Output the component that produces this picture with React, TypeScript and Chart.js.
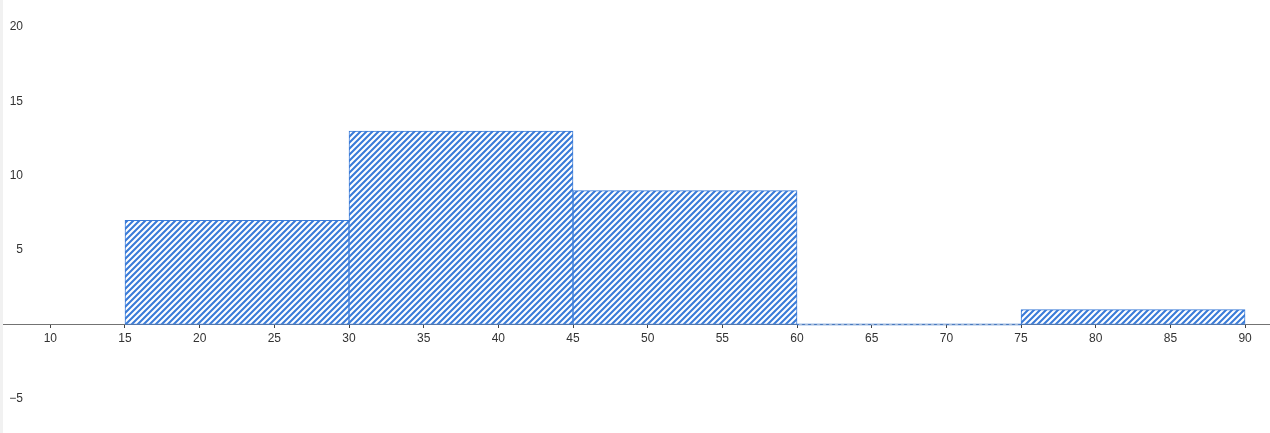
import React, { useEffect, useRef } from "react";
import { Chart, registerables } from "chart.js";

Chart.register(...registerables);

const binCenters = [22.5, 37.5, 52.5, 67.5, 82.5];
const binCounts = [7, 13, 9, 0, 1];
const binWidth = 15;
const xTickRange = [6.63, 91.67];
const yTickRange = [-7.29, 21.81];

const BLUE = "#3a7bd8";

function makeHatch(): CanvasPattern | string {
  const s = 6;
  const c = document.createElement("canvas");
  c.width = s;
  c.height = s;
  const ctx = c.getContext("2d");
  if (!ctx) return BLUE;
  ctx.fillStyle = "#ffffff";
  ctx.fillRect(0, 0, s, s);
  ctx.strokeStyle = BLUE;
  ctx.lineWidth = 2.1;
  ctx.beginPath();
  ctx.moveTo(-1, s + 1);
  ctx.lineTo(s + 1, -1);
  ctx.moveTo(-2, 2);
  ctx.lineTo(2, -2);
  ctx.moveTo(s - 2, s + 2);
  ctx.lineTo(s + 2, s - 2);
  ctx.stroke();
  const p = ctx.createPattern(c, "repeat");
  return p || BLUE;
}

const noPad = (s: any) => {
  s.paddingTop = 0;
  s.paddingBottom = 0;
  s.paddingLeft = 0;
  s.paddingRight = 0;
};

const font = { family: "'Liberation Sans', Arial, sans-serif", size: 12 };

export default function App() {
  const ref = useRef<HTMLCanvasElement | null>(null);

  useEffect(() => {
    if (!ref.current) return;
    const hatch = makeHatch();
    const chart = new Chart(ref.current, {
      type: "bar",
      data: {
        datasets: [
          {
            data: binCenters.map((x, i) => ({ x, y: binCounts[i] })),
            xAxisID: "xb",
            backgroundColor: hatch as any,
            borderColor: BLUE,
            borderWidth: 1,
            borderSkipped: false,
            barPercentage: 1,
            categoryPercentage: 1,
            minBarLength: 1.5,
          },
        ],
      },
      options: {
        animation: false,
        responsive: false,
        devicePixelRatio: 1,
        layout: { padding: 0 },
        plugins: { legend: { display: false }, tooltip: { enabled: false } },
        scales: {
          xb: {
            type: "linear",
            display: false,
            offset: false,
            min: xTickRange[0],
            max: xTickRange[1],
            ticks: { stepSize: binWidth, includeBounds: false },
            afterFit: noPad,
          },
          x: {
            type: "linear",
            offset: false,
            min: xTickRange[0],
            max: xTickRange[1],
            position: { y: 0 } as any,
            grid: {
              display: true,
              offset: false,
              drawOnChartArea: false,
              drawTicks: true,
              tickLength: 3,
              color: "#444444",
            },
            border: { display: true, color: "#737373", width: 1 },
            ticks: {
              stepSize: 5,
              includeBounds: false,
              padding: 4,
              color: "#333333",
              font,
              maxRotation: 0,
              autoSkip: false,
            },
            afterFit: noPad,
          },
          y: {
            type: "linear",
            min: yTickRange[0],
            max: yTickRange[1],
            position: { x: 8.17 } as any,
            grid: { display: false, drawTicks: false },
            border: { display: false },
            ticks: {
              stepSize: 5,
              includeBounds: false,
              padding: 0,
              color: "#333333",
              font,
              callback: (v: any) =>
                v === 0 ? "" : v < 0 ? "\u2212" + Math.abs(v) : String(v),
            },
            afterFit: noPad,
          },
        },
      },
    });
    return () => chart.destroy();
  }, []);

  return (
    <div style={{ position: "fixed", left: 0, top: 0, width: 1270, height: 433, background: "#fff" }}>
      <canvas
        ref={ref}
        width={1270}
        height={433}
        style={{ position: "absolute", left: 0, top: 0, display: "block", width: 1270, height: 433 }}
      />
      <div style={{ position: "absolute", left: 0, top: 0, width: 3, height: 433, background: "#f1f1f1" }} />
    </div>
  );
}
